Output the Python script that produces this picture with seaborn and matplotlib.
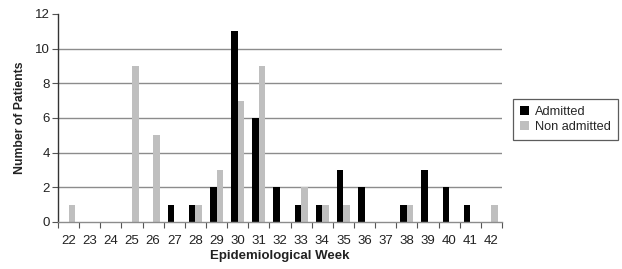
import matplotlib
matplotlib.use("Agg")
import matplotlib.pyplot as plt
import seaborn as sns
import pandas as pd
import numpy as np
from matplotlib.ticker import FixedLocator
from matplotlib.patches import Patch

weeks = [str(w) for w in range(22, 43)]
admitted = [0, 0, 0, 0, 0, 1, 1, 2, 11, 6, 2, 1, 1, 3, 2, 0, 1, 3, 2, 1, 0]
non_admitted = [1, 0, 0, 9, 5, 0, 1, 3, 7, 9, 0, 2, 1, 1, 0, 0, 1, 0, 0, 0, 1]
series = ["Admitted", "Non admitted"]
colors = ["#000000", "#bfbfbf"]

df = pd.DataFrame({
    "week": weeks * 2,
    "count": admitted + non_admitted,
    "group": [series[0]] * len(weeks) + [series[1]] * len(weeks),
})

sns.set_style("white")
plt.rcParams["font.family"] = ["Liberation Sans", "DejaVu Sans"]

fig = plt.figure(figsize=(6.22, 2.69), dpi=100)
ax = fig.add_axes([58 / 622, 1 - 222 / 269, 444 / 622, 208 / 269])

sns.barplot(data=df, x="week", y="count", hue="group", order=weeks,
            hue_order=series, palette=colors, width=0.62, gap=0,
            saturation=1, edgecolor="none", linewidth=0, ax=ax, legend=False)

ax.set_ylim(0, 12)
ax.set_xlim(-0.5, len(weeks) - 0.5)
ax.set_yticks(range(0, 13, 2))
for y in range(2, 12, 2):
    ax.axhline(y, color="#8c8c8c", linewidth=1.0, zorder=0)

for s in ["top", "right"]:
    ax.spines[s].set_visible(False)
ax.spines["left"].set_color("#333333")
ax.spines["left"].set_linewidth(1.0)
ax.spines["bottom"].set_color("#8c8c8c")
ax.spines["bottom"].set_linewidth(1.0)

ax.tick_params(axis="y", left=True, length=4, width=0.8, color="#555555",
               labelsize=9.5, pad=2, labelcolor="#222222")
ax.tick_params(axis="x", bottom=False, labelsize=9.5, pad=6, labelcolor="#222222")
ax.xaxis.set_minor_locator(FixedLocator(np.arange(-0.5, len(weeks), 1.0)))
ax.tick_params(axis="x", which="minor", bottom=True, length=4, width=0.8,
               color="#555555")

ax.set_xlabel("Epidemiological Week", fontsize=9.5, fontweight="bold",
              labelpad=2, color="#222222")
ax.set_ylabel("Number of Patients", fontsize=8.8, fontweight="bold",
              labelpad=6, color="#222222")

handles = [Patch(facecolor=c, edgecolor="none") for c in colors]
leg = fig.legend(handles, series, loc="upper left",
                 bbox_to_anchor=(513 / 622, 1 - 99 / 269),
                 frameon=True, fancybox=False, fontsize=9.2,
                 handlelength=0.7, handleheight=0.7, handletextpad=0.5,
                 labelspacing=0.2, borderpad=0.55, borderaxespad=0)
leg.get_frame().set_edgecolor("#333333")
leg.get_frame().set_linewidth(0.9)

fig.savefig("out.png", dpi=100)
